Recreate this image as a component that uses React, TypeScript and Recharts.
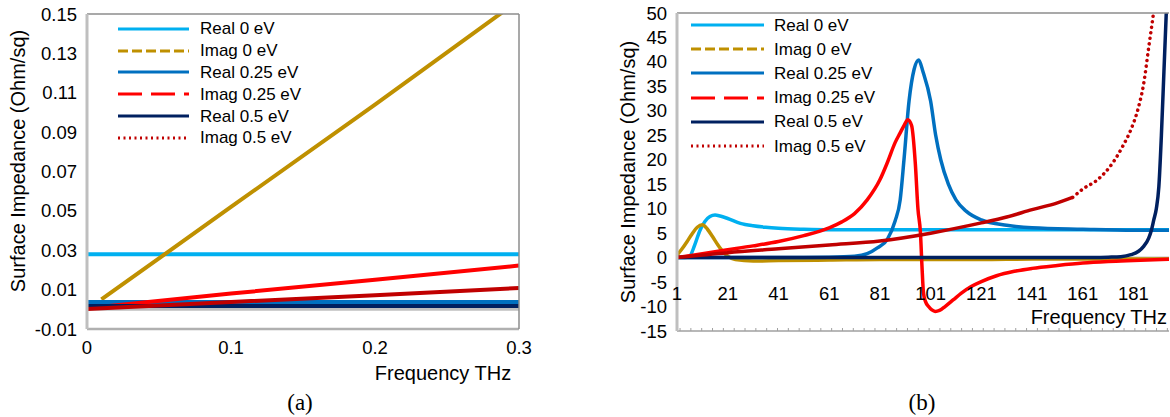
import React from "react";
import { LineChart, Line, XAxis, YAxis, Legend, ReferenceLine } from "recharts";

const FONT = "'Liberation Sans', Arial, Helvetica, sans-serif";

// legend entries shared by both panels
const names = ["Real 0 eV", "Imag 0 eV", "Real 0.25 eV", "Imag 0.25 eV", "Real 0.5 eV", "Imag 0.5 eV"];
const colors = ["#00b0f0", "#bf9000", "#0070c0", "#ff0000", "#002060", "#c00000"];
const legendDash = ["", "10 4", "", "24 9", "", "2 3.5"];

// (a) 0 - 0.3 THz
const freqA = [0, 0.1, 0.2, 0.3];
const real0A = [0.028, 0.028, 0.028, 0.028];
const imag0FreqA = [0.01, 0.1, 0.2, 0.3];
const imag0A = [0.005, 0.052, 0.104, 0.157];
const real025A = [0.0037, 0.0037, 0.0037, 0.0037];
const imag025A = [0.0005, 0.008, 0.015, 0.0222];
const real05A = [0.0017, 0.0017, 0.0017, 0.0017];
const imag05A = [0.0002, 0.0037, 0.0072, 0.0108];
const xTicksA = [0, 0.1, 0.2, 0.3];
const yTicksA = [-0.01, 0.01, 0.03, 0.05, 0.07, 0.09, 0.11, 0.13, 0.15];

// (b) 1 - 195 THz
const real0FreqB = [1, 4, 6, 8, 10, 12, 14, 16, 18, 21, 26, 31, 36, 41, 51, 61, 81, 101, 121, 141, 161, 181, 195];
const real0B = [0, 0, 0.3, 2.6, 5.5, 7.4, 8.4, 8.7, 8.5, 8.0, 7.0, 6.5, 6.2, 6.0, 5.8, 5.7, 5.7, 5.7, 5.7, 5.7, 5.7, 5.7, 5.7];
const imag0FreqB = [1, 3, 5, 7, 9, 11, 13, 15, 17, 19, 21, 24, 31, 41, 61, 81, 101, 121, 141, 161, 181, 195];
const imag0B = [0.5, 1.8, 3.3, 4.9, 6.2, 6.7, 5.8, 4.3, 2.7, 1.3, 0.3, -0.4, -0.7, -0.6, -0.5, -0.4, -0.4, -0.4, -0.3, -0.3, -0.3, -0.3];
const real025FreqB = [1, 41, 61, 71, 76, 80, 84, 87, 89, 90.5, 92.5, 94.5, 96.3, 98, 101, 103, 105, 108, 111, 115, 121, 131, 141, 161, 181, 195];
const real025B = [0, 0, 0.1, 0.3, 0.8, 2, 3.8, 7.5, 11.8, 20, 32, 38.5, 40.4, 38, 32, 25, 20, 15, 11.8, 9.5, 7.7, 6.6, 6.1, 5.8, 5.6, 5.6];
const imag025FreqB = [1, 11, 21, 31, 41, 51, 61, 66, 71, 76, 81, 84, 87, 89, 90.5, 92, 93.5, 95, 96, 97, 97.6, 98.2, 99, 100.2, 101.5, 102.8, 104.5, 106.7, 110, 113, 117, 121, 127, 134, 141, 151, 161, 171, 181, 195];
const imag025B = [0, 0.8, 1.6, 2.4, 3.3, 4.5, 6.1, 7.3, 9, 11.8, 15.9, 19.5, 23.5, 25.5, 27, 28.2, 27, 19, 10, 5, -1.8, -7.3, -9, -10, -10.7, -11, -10.8, -10, -8.6, -7.3, -5.9, -4.9, -3.7, -2.8, -2.2, -1.6, -1.1, -0.8, -0.6, -0.35];
const real05FreqB = [1, 101, 161, 171, 176, 180, 183, 185, 187, 188, 189, 190, 191, 192, 193, 194, 195];
const real05B = [0, 0, 0, 0.1, 0.2, 0.6, 1.3, 2.3, 4, 5.5, 7.7, 10, 14.5, 25, 38, 51, 64];
const imag05FreqB = [1, 21, 41, 61, 81, 101, 121, 131, 141, 151, 157, 161, 167, 173, 177, 180, 183, 185, 187, 189, 191];
const imag05B = [0, 1.0, 1.8, 2.6, 3.4, 5.0, 7.1, 8.3, 9.8, 11.2, 12.3, 14, 16, 19.5, 23, 26.2, 30.8, 35.5, 43, 50.5, 60];
const xTicksB = [1, 21, 41, 61, 81, 101, 121, 141, 161, 181];
const yTicksB = [-15, -10, -5, 0, 5, 10, 15, 20, 25, 30, 35, 40, 45, 50];
const minorTicksB = Array.from({ length: 46 }, (_, i) => 2.2 + i * 4.27).filter((t) => t <= 195);

type Pt = { f: number; v: number };
const toPts = (fs: number[], vs: number[]): Pt[] => fs.map((f, i) => ({ f, v: vs[i] }));

const seriesA = [
  toPts(freqA, real0A),
  toPts(imag0FreqA, imag0A),
  toPts(freqA, real025A),
  toPts(freqA, imag025A),
  toPts(freqA, real05A),
  toPts(freqA, imag05A),
];

const imag05AllB = toPts(imag05FreqB, imag05B);
const seriesB = [
  toPts(real0FreqB, real0B),
  toPts(imag0FreqB, imag0B),
  toPts(real025FreqB, real025B),
  toPts(imag025FreqB, imag025B),
  toPts(real05FreqB, real05B),
];

const tickStyle = { fill: "#000", fontSize: 18.5, fontFamily: FONT };
const lightAxis = { stroke: "#bfbfbf", strokeWidth: 3 };
const darkAxis = { stroke: "#8c8c8c", strokeWidth: 1.5 };

const LegendRows = ({ rowH, lineW, gap }: { rowH: number; lineW: number; gap: number }) => (
  <div style={{ fontFamily: FONT, fontSize: 17, color: "#000" }}>
    {names.map((n, i) => (
      <div key={n} style={{ display: "flex", alignItems: "center", height: rowH }}>
        <svg width={lineW} height={6} style={{ display: "block" }}>
          <line x1={0} y1={3} x2={lineW} y2={3} stroke={colors[i]} strokeWidth={3} strokeDasharray={legendDash[i] || undefined} />
        </svg>
        <span style={{ marginLeft: gap, lineHeight: 1, whiteSpace: "nowrap" }}>{n}</span>
      </div>
    ))}
  </div>
);

// (b) plot box; the category labels sit next to the zero line like in the original
const TOP_B = 14;
const H_B = 317;
const BOTTOM_B = TOP_B + H_B;
const ZERO_Y_B = TOP_B + (H_B * 50) / 65;

const CategoryTick = (props: any) => {
  const v = props.payload.value;
  if (xTicksB.includes(v)) {
    return (
      <text x={props.x} y={ZERO_Y_B + 42} textAnchor="middle" fill="#000" fontSize={18.5} fontFamily={FONT}>
        {v}
      </text>
    );
  }
  return <line x1={props.x} x2={props.x} y1={BOTTOM_B - 3} y2={BOTTOM_B} stroke="#a0a0a0" strokeWidth={1} />;
};
const NoTick = () => <g />;

const ChartA = () => (
  <LineChart width={560} height={417} margin={{ top: 13, right: 40, bottom: 58, left: 0 }}>
    <XAxis type="number" dataKey="f" domain={[0, 0.3]} ticks={xTicksA} interval={0} height={30}
      tickFormatter={(v: number) => String(v)} axisLine={{ stroke: "#b0b0b0", strokeWidth: 2.5 }} tickLine={false}
      tickSize={0} tickMargin={12} tick={tickStyle} allowDataOverflow />
    <XAxis xAxisId="top" orientation="top" type="number" domain={[0, 0.3]} height={1} axisLine={darkAxis}
      tickLine={false} tick={false} />
    <YAxis type="number" domain={[-0.01, 0.15]} ticks={yTicksA} interval={0} width={87}
      tickFormatter={(v: number) => v.toFixed(2)} axisLine={lightAxis} tickLine={false} tickSize={0} tickMargin={10}
      tick={tickStyle} allowDataOverflow />
    <YAxis yAxisId="right" orientation="right" type="number" domain={[-0.01, 0.15]} width={1} axisLine={darkAxis}
      tickLine={false} tick={false} />
    <ReferenceLine y={0} stroke="#bfbfbf" strokeWidth={3} />
    {seriesA.map((d, i) => (
      <Line key={names[i]} data={d} dataKey="v" name={names[i]} stroke={colors[i]} strokeWidth={4}
        dot={false} type="linear" isAnimationActive={false} />
    ))}
    <Legend layout="vertical" align="center" verticalAlign="middle"
      wrapperStyle={{ left: 118, top: 18, width: 240, height: 135 }}
      content={() => <LegendRows rowH={21.8} lineW={71} gap={11} />} />
  </LineChart>
);

const ChartB = () => (
  <LineChart width={570} height={417} margin={{ top: TOP_B - 1, right: 1, bottom: 56, left: 0 }}>
    <XAxis type="number" dataKey="f" domain={[1, 195]} ticks={[...minorTicksB, ...xTicksB].sort((a, b) => a - b)}
      interval={0} height={30} axisLine={{ stroke: "#a0a0a0", strokeWidth: 1.5 }} tickLine={false}
      tick={CategoryTick} allowDataOverflow />
    <XAxis xAxisId="top" orientation="top" type="number" domain={[1, 195]} ticks={minorTicksB} interval={0}
      height={1} axisLine={darkAxis} mirror tickSize={3} tickLine={{ stroke: "#8c8c8c" }} tick={NoTick} />
    <YAxis type="number" domain={[-15, 50]} ticks={yTicksB} interval={0} width={77} axisLine={lightAxis}
      tickLine={false} tickSize={0} tickMargin={10} tick={tickStyle} allowDataOverflow />
    <ReferenceLine y={0} stroke="#bfbfbf" strokeWidth={2} />
    {seriesB.map((d, i) => (
      <Line key={names[i]} data={d} dataKey="v" name={names[i]} stroke={colors[i]} strokeWidth={3.5}
        dot={false} type="monotone" isAnimationActive={false} />
    ))}
    <Line data={imag05AllB.filter((p) => p.f <= 157)} dataKey="v" name={names[5]} stroke={colors[5]}
      strokeWidth={3.5} dot={false} type="monotone" isAnimationActive={false} />
    <Line data={imag05AllB.filter((p) => p.f >= 157)} dataKey="v" name={names[5] + " "} stroke={colors[5]}
      strokeWidth={3.5} strokeDasharray="0.1 5.5" strokeLinecap="round" dot={false} type="monotone"
      isAnimationActive={false} />
    <Legend layout="vertical" align="center" verticalAlign="middle"
      wrapperStyle={{ left: 91, top: 13, width: 240, height: 150 }}
      content={() => <LegendRows rowH={24.2} lineW={73} gap={10} />} />
  </LineChart>
);

const titleStyle: React.CSSProperties = {
  position: "absolute",
  fontFamily: FONT,
  fontSize: 20,
  color: "#000",
  whiteSpace: "nowrap",
  lineHeight: 1,
};

const captionStyle: React.CSSProperties = {
  position: "absolute",
  fontFamily: "'Liberation Serif', 'Times New Roman', serif",
  fontSize: 23,
  color: "#000",
  lineHeight: 1,
  transform: "translate(-50%, -50%)",
};

export default function App() {
  return (
    <div style={{ position: "absolute", left: 0, top: 0, width: 1170, height: 417, background: "#fff", overflow: "hidden" }}>
      <div style={{ position: "absolute", left: 0, top: 0 }}>
        <ChartA />
      </div>
      <div style={{ position: "absolute", left: 600, top: 0 }}>
        <ChartB />
      </div>

      <div style={{ ...titleStyle, left: 18, top: 161, transform: "translate(-50%, -50%) rotate(-90deg)" }}>
        Surface Impedance (Ohm/sq)
      </div>
      <div style={{ ...titleStyle, left: 443, top: 373, transform: "translate(-50%, -50%)" }}>Frequency THz</div>

      <div style={{ ...titleStyle, left: 628, top: 172, transform: "translate(-50%, -50%) rotate(-90deg)" }}>
        Surface Impedance (Ohm/sq)
      </div>
      <div style={{ ...titleStyle, right: 3, top: 317, transform: "translateY(-50%)" }}>Frequency THz</div>

      <div style={{ ...captionStyle, left: 300, top: 402 }}>(a)</div>
      <div style={{ ...captionStyle, left: 922, top: 402 }}>(b)</div>
    </div>
  );
}
